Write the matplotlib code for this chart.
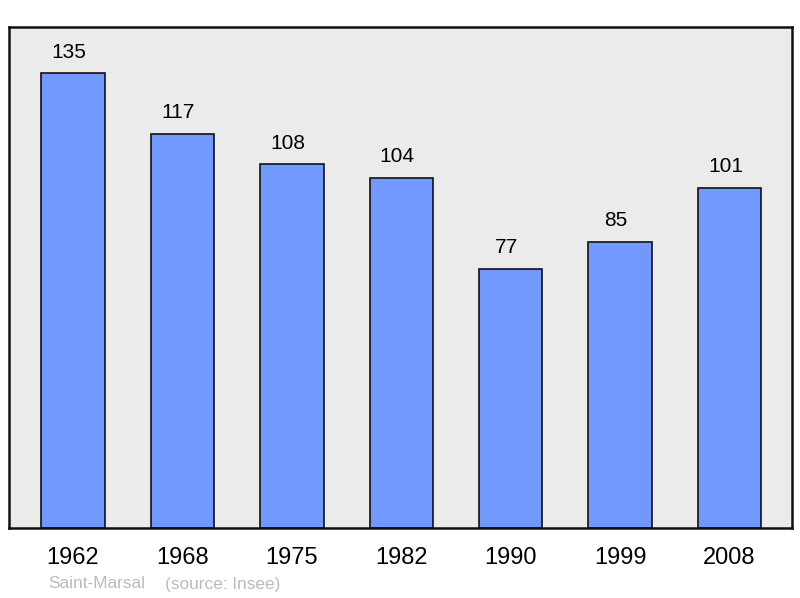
import matplotlib
matplotlib.use("Agg")
import matplotlib.pyplot as plt

years = ["1962", "1968", "1975", "1982", "1990", "1999", "2008"]
population = [135, 117, 108, 104, 77, 85, 101]

plt.rcParams['font.family'] = ['Liberation Sans', 'DejaVu Sans']

fig = plt.figure(figsize=(8, 5.98), dpi=100)
ax = fig.add_axes([9/800, 70/598, 783/800, 501/598])
ax.set_facecolor('#EBEBEB')
x = list(range(len(years)))
bars = ax.bar(x, population, width=0.58, color='#7098FF', edgecolor='#111111', linewidth=1.2)
for xi, v in zip(x, population):
    ax.annotate(str(v), (xi, v), xytext=(-3, 15), textcoords='offset points',
                ha='center', va='center', fontsize=15, color='#000000')
ax.set_xlim(-0.585, 6.57)
ax.set_ylim(0, 148.7)
ax.set_yticks([])
ax.set_xticks(x)
ax.set_xticklabels(years, fontsize=17)
ax.tick_params(axis='x', length=0, pad=14)
for s in ax.spines.values():
    s.set_linewidth(1.8)
    s.set_color('#111111')
fig.text(48/800, 1 - 584/598, "Saint-Marsal", fontsize=12.4, color='#BBBBBB', va='center', ha='left')
fig.text(165/800, 1 - 584/598, "(source: Insee)", fontsize=12.4, color='#BBBBBB', va='center', ha='left')
fig.savefig("out.png", dpi=100)
